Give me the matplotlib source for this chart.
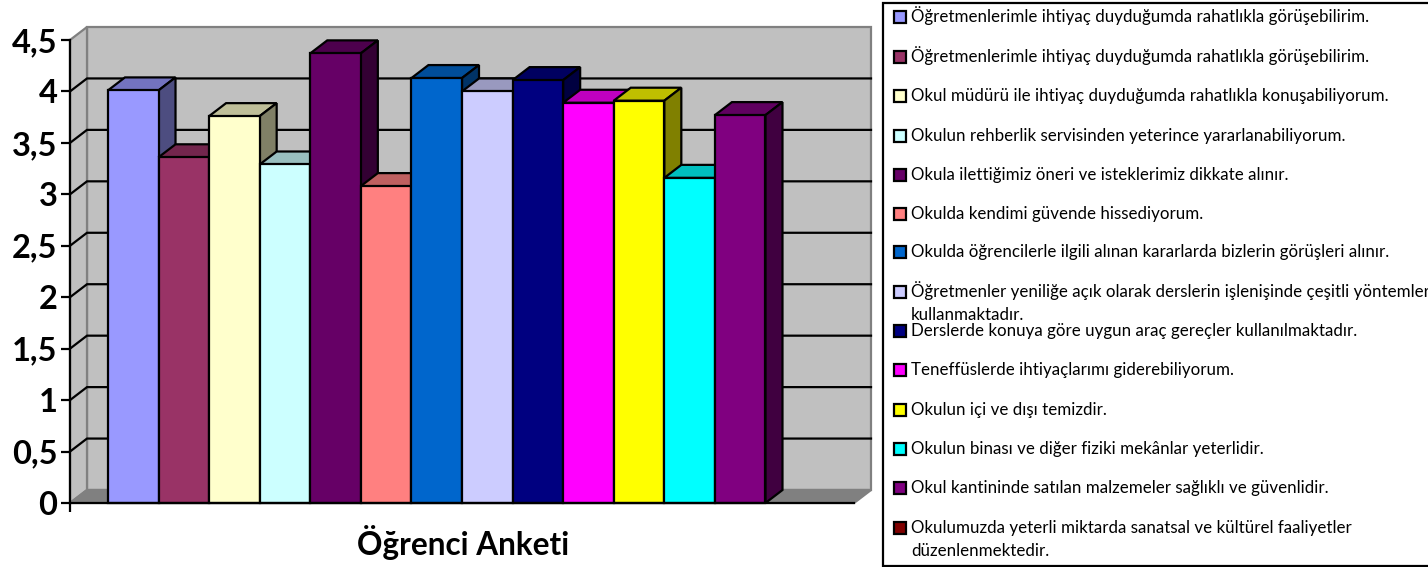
import matplotlib
matplotlib.use("Agg")
import matplotlib.pyplot as plt
from matplotlib.colors import to_rgb
from matplotlib.patches import Polygon, Rectangle

plt.rcParams['font.family'] = ['Lato', 'DejaVu Sans']

W, H = 1428, 567

labels = [
    "Öğretmenlerimle ihtiyaç duyduğumda rahatlıkla görüşebilirim.",
    "Öğretmenlerimle ihtiyaç duyduğumda rahatlıkla görüşebilirim.",
    "Okul müdürü ile ihtiyaç duyduğumda rahatlıkla konuşabiliyorum.",
    "Okulun rehberlik servisinden yeterince yararlanabiliyorum.",
    "Okula ilettiğimiz öneri ve isteklerimiz dikkate alınır.",
    "Okulda kendimi güvende hissediyorum.",
    "Okulda öğrencilerle ilgili alınan kararlarda bizlerin görüşleri alınır.",
    "Öğretmenler yeniliğe açık olarak derslerin işlenişinde çeşitli yöntemler\nkullanmaktadır.",
    "Derslerde konuya göre uygun araç gereçler kullanılmaktadır.",
    "Teneffüslerde ihtiyaçlarımı giderebiliyorum.",
    "Okulun içi ve dışı temizdir.",
    "Okulun binası ve diğer fiziki mekânlar yeterlidir.",
    "Okul kantininde satılan malzemeler sağlıklı ve güvenlidir.",
    "Okulumuzda yeterli miktarda sanatsal ve kültürel faaliyetler\ndüzenlenmektedir.",
]
values = [4.01, 3.36, 3.76, 3.29, 4.37, 3.08, 4.13, 4.0, 4.11, 3.89, 3.91, 3.16, 3.77, 0]
colors = ["#9999FF", "#993366", "#FFFFCC", "#CCFFFF", "#660066", "#FF8080", "#0066CC",
          "#CCCCFF", "#000080", "#FF00FF", "#FFFF00", "#00FFFF", "#800080", "#800000"]
yticks = [0, 0.5, 1, 1.5, 2, 2.5, 3, 3.5, 4, 4.5]
ytick_labels = ["0", "0,5", "1", "1,5", "2", "2,5", "3", "3,5", "4", "4,5"]
title = "Öğrenci Anketi"

# pixel centre of each legend row, top to bottom
legend_rows = [17, 57, 96, 136, 175, 214, 252, 292, 331, 370, 410, 449, 488, 528]

fig = plt.figure(figsize=(W / 100, H / 100), dpi=100)
ax = fig.add_axes([70 / W, 1 - 503 / H, 784 / W, 463 / H])
ax.set_xlim(0, 15.5)
ax.set_ylim(0, 4.5)

# depth of the fake 3d box, in data units
dx = 17 / (784 / 15.5)
dy = 13 / (463 / 4.5)
x_end = 15.5
bar_start = 0.75
edge = 1.6
wall_grey = "#C0C0C0"
frame_grey = "#808080"


def shade(color, k):
    return tuple(c * k for c in to_rgb(color))


# back wall, left wall and floor
ax.add_patch(Polygon([(dx, dy), (x_end + dx, dy), (x_end + dx, 4.5 + dy), (dx, 4.5 + dy)],
                     fc=wall_grey, ec=frame_grey, lw=edge, clip_on=False, zorder=1))
ax.add_patch(Polygon([(0, 0), (dx, dy), (dx, 4.5 + dy), (0, 4.5)],
                     fc=wall_grey, ec=frame_grey, lw=edge, clip_on=False, zorder=1))
ax.add_patch(Polygon([(0, 0), (x_end, 0), (x_end + dx, dy), (dx, dy)],
                     fc=frame_grey, ec=frame_grey, lw=edge, clip_on=False, zorder=1))

# gridlines run along the back wall and down the left wall
for t in yticks[1:-1]:
    ax.plot([0, dx, x_end + dx], [t, t + dy, t + dy], color="black", lw=edge,
            clip_on=False, zorder=2, solid_joinstyle="miter")

for i, (v, c) in enumerate(zip(values, colors)):
    if v == 0:
        continue
    x0 = bar_start + i
    z = 3 + i
    ax.bar(x0, v, width=1, align="edge", color=c, edgecolor="black", linewidth=edge,
           zorder=z + 0.5, clip_on=False)
    ax.add_patch(Polygon([(x0, v), (x0 + 1, v), (x0 + 1 + dx, v + dy), (x0 + dx, v + dy)],
                         fc=shade(c, 0.75), ec="black", lw=edge, clip_on=False, zorder=z))
    ax.add_patch(Polygon([(x0 + 1, 0), (x0 + 1 + dx, dy), (x0 + 1 + dx, v + dy), (x0 + 1, v)],
                         fc=shade(c, 0.5), ec="black", lw=edge, clip_on=False, zorder=z))

for s in ["top", "right"]:
    ax.spines[s].set_visible(False)
for s in ["left", "bottom"]:
    ax.spines[s].set_linewidth(edge)
    ax.spines[s].set_zorder(30)

ax.set_yticks(yticks)
ax.set_yticklabels(ytick_labels, fontsize=23.5, fontweight="bold")
ax.tick_params(axis="y", length=6.5, width=edge, pad=2.5)
ax.set_xticks([0])
ax.set_xticklabels([""])
ax.tick_params(axis="x", length=6.5, width=edge)

fig.text(463 / W, 1 - 543 / H, title, fontsize=22.7, fontweight="bold",
         ha="center", va="center", color="black")

# legend box, right side runs off the picture like in the original
fig.add_artist(Rectangle((883 / W, 1 - 566 / H), (W + 5 - 883) / W, 563 / H,
                         transform=fig.transFigure, fc="white", ec="black", lw=1.6))
for row, lab, c in zip(legend_rows, labels, colors):
    fig.add_artist(Rectangle((893.5 / W, 1 - (row + 6) / H), 12 / W, 12 / H,
                             transform=fig.transFigure, fc=c, ec="black", lw=1.6))
    for j, line in enumerate(lab.split("\n")):
        fig.text(911 / W, 1 - (row + 5 + j * 22.5) / H, line, fontsize=12.15,
                 ha="left", va="baseline", color="black")

fig.savefig("out.png", dpi=100)
